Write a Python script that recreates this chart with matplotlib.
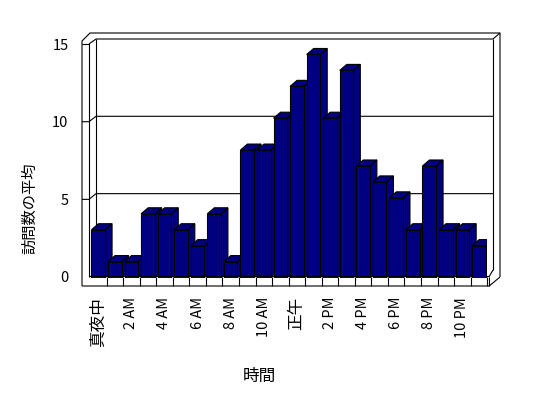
import matplotlib
matplotlib.use('Agg')
import matplotlib.pyplot as plt
from matplotlib.patches import Polygon

plt.rcParams['font.family'] = ['Noto Sans CJK JP', 'DejaVu Sans']

# ---- data ----
categories = ['真夜中', '1 AM', '2 AM', '3 AM', '4 AM', '5 AM', '6 AM', '7 AM',
              '8 AM', '9 AM', '10 AM', '11 AM', '正午', '1 PM', '2 PM', '3 PM',
              '4 PM', '5 PM', '6 PM', '7 PM', '8 PM', '9 PM', '10 PM', '11 PM']
values = [3, 1, 1, 4, 4, 3, 2, 4, 1, 8, 8, 10, 12, 14, 10, 13, 7, 6, 5, 3, 7, 3, 3, 2]
y_ticks = [0, 5, 10, 15]
x_label = '時間'
y_label = '訪問数の平均'

# ---- layout (pixels) ----
W, H = 548, 398
FX0, UX = 90.0, 16.55          # front plane: left edge, px per category
FY0, PXY = 277.5, 15.93        # front plane: zero line, px per unit
n = len(values)

fig = plt.figure(figsize=(W / 100, H / 100), dpi=100)
ax = fig.add_axes([FX0 / W, (H - FY0) / H, n * UX / W, 15 * PXY / H])
ax.set_xlim(0, n)
ax.set_ylim(0, 15)
ax.patch.set_visible(False)
for s in ax.spines.values():
    s.set_visible(False)


def X(px):
    return (px - FX0) / UX


def Y(py):
    return (FY0 - py) / PXY


LW = 0.8
K = dict(color='black', lw=LW, clip_on=False, solid_capstyle='butt')


def seg(pts, z=1):
    ax.plot([X(p[0]) for p in pts], [Y(p[1]) for p in pts], zorder=z, **K)


# ---- walls / frame ----
XR_IN, XR_OUT = 493, 500
seg([(82, 286), (82, 41), (90, 33), (XR_OUT, 33), (XR_OUT, 277)])
seg([(82, 44), (89, 44), (89, 277)])
seg([(89, 44), (96, 39), (XR_IN, 39), (XR_OUT, 33)])
seg([(96, 39), (96, 271)])
seg([(XR_IN, 39), (XR_IN, 270)])

# gridlines on back wall and ticks on left wall
for v in y_ticks[1:-1]:
    yl = 277 - 15.53 * v
    yb = 271 - 15.47 * v
    seg([(82, yl), (89, yl), (96, yb), (XR_IN, yb)])

# floor slab
xr_floor = FX0 + n * UX + 2
seg([(89, 276.5), (xr_floor, 276.5), (XR_IN, 270)], z=50)
seg([(82, 286), (xr_floor, 286), (XR_OUT, 277)], z=50)
for k in range(1, n + 1):
    ax.plot([k, k], [Y(276.5), Y(286)], zorder=50, **K)
ax.plot([X(xr_floor)] * 2, [Y(276.5), Y(286)], zorder=50, **K)

# ---- 3D bars ----
navy = '#000080'
bw = 0.82
ddx = 7 / UX
ddy = 6 / PXY
xs = [i + 0.5 for i in range(n)]
bars = ax.bar(xs, values, width=bw, color=navy, edgecolor='black',
              linewidth=LW)
for i, (b, x, v) in enumerate(zip(bars, xs, values)):
    l, r = x - bw / 2, x + bw / 2
    side = Polygon([(r, 0), (r + ddx, ddy), (r + ddx, v + ddy), (r, v)],
                   closed=True, facecolor=navy, edgecolor='black', lw=LW,
                   zorder=3 + 2 * i)
    top = Polygon([(l, v), (r, v), (r + ddx, v + ddy), (l + ddx, v + ddy)],
                  closed=True, facecolor=navy, edgecolor='black', lw=LW,
                  zorder=3 + 2 * i)
    ax.add_patch(side)
    ax.add_patch(top)
    b.set_zorder(4 + 2 * i)

# ---- ticks & labels ----
ax.set_yticks([Y(277 - 15.53 * v) for v in y_ticks],
              labels=[str(v) for v in y_ticks])
ax.set_xticks(xs[::2], labels=categories[::2], rotation=90)
ax.tick_params(axis='y', length=0, pad=15.5, labelsize=10.5)
ax.tick_params(axis='x', length=0, pad=14, labelsize=10.5)
for t in ax.get_xticklabels():
    if not t.get_text()[0].isdigit():
        t.set_fontsize(12)

ax.set_ylabel(y_label, fontsize=11, va='center')
ax.yaxis.set_label_coords(X(30) / n, Y(208) / 15)
ax.set_xlabel(x_label, fontsize=12, va='center')
ax.xaxis.set_label_coords(X(259) / n, Y(376) / 15)

fig.savefig('out.png', dpi=100, facecolor='white')
